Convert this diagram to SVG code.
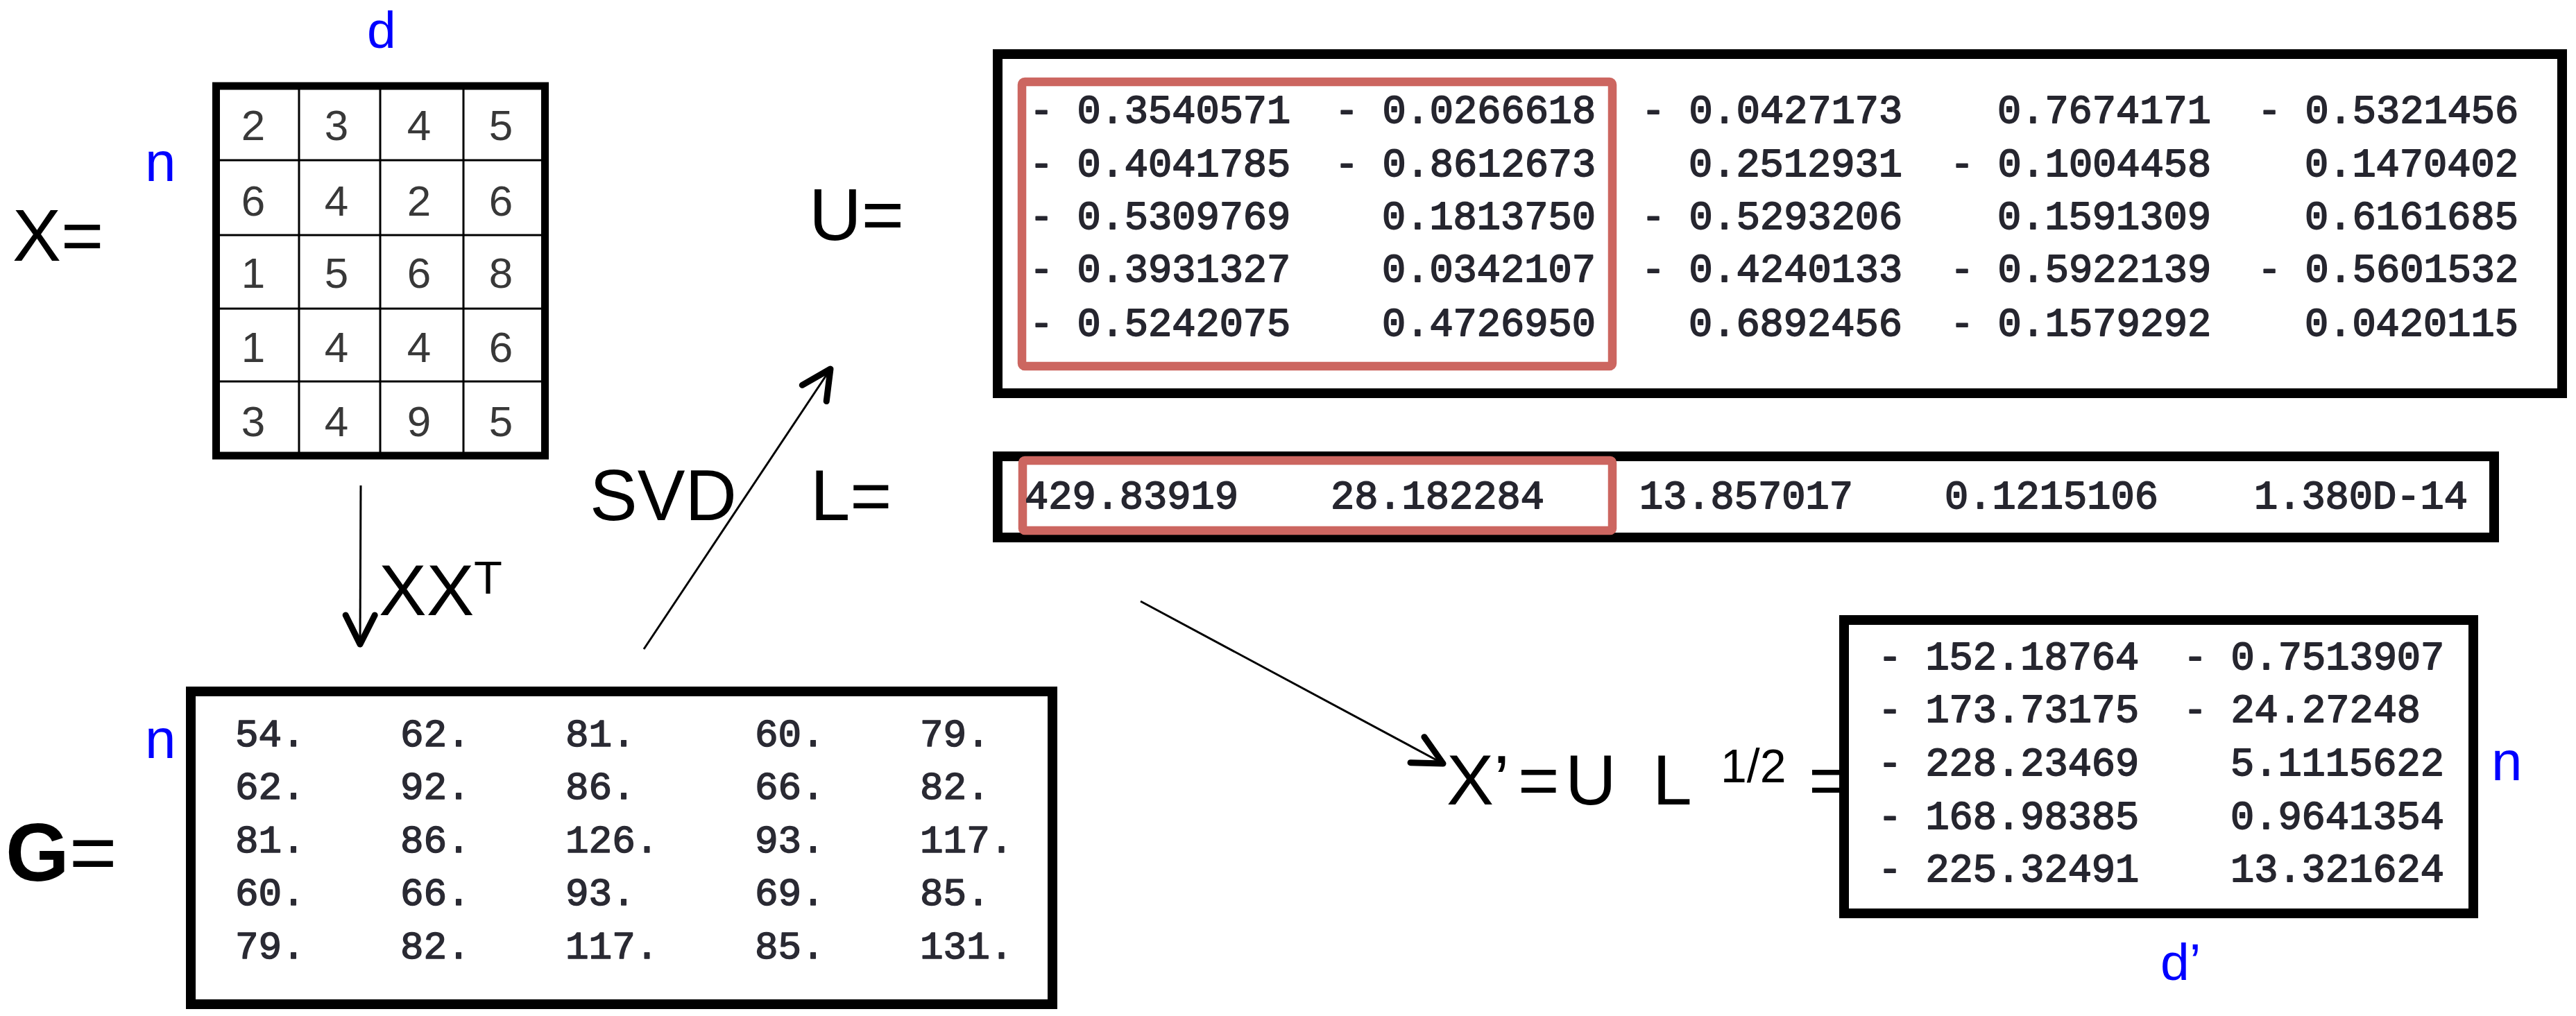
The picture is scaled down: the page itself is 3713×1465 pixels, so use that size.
<svg xmlns="http://www.w3.org/2000/svg" width="3713" height="1465" viewBox="0 0 3713 1465">
<style>
.lbl{font-family:"Liberation Sans",Arial,sans-serif;fill:#000}
.blue{font-family:"Liberation Sans",Arial,sans-serif;fill:#0000FF}
.mono{font-family:"Liberation Mono","Courier New",monospace;font-size:57px;fill:#26262f;stroke:#26262f;stroke-width:1.8;stroke-linejoin:round}
.gmono{font-family:"Liberation Mono","Courier New",monospace;font-size:56px;fill:#2a2a33;stroke:#2a2a33;stroke-width:1.6;stroke-linejoin:round}
.cell{font-family:"Liberation Sans",Arial,sans-serif;font-size:62px;fill:#383838;text-anchor:middle}
.box{fill:none;stroke:#000;stroke-width:14}
.red{fill:none;stroke:#CC6660;stroke-width:12.5}
.grid{stroke:#000;stroke-width:3}
.conn{stroke:#000;stroke-width:3;fill:none}
</style>
<defs>
<marker id="arr" markerUnits="userSpaceOnUse" markerWidth="100" markerHeight="100" refX="0" refY="0" orient="auto" overflow="visible">
<path d="M-42,-21 L0,0 L-42,21" fill="none" stroke="#000" stroke-width="9" stroke-linecap="round" stroke-linejoin="round"/>
</marker>
</defs>
<rect width="3713" height="1465" fill="#fff"/>

<g id="X">
<text class="lbl" x="18" y="376" font-size="105">X=</text>
<text class="blue" x="529" y="69" font-size="75">d</text>
<text class="blue" x="209" y="261" font-size="80">n</text>
<rect x="311.5" y="124" width="474" height="533" fill="none" stroke="#000" stroke-width="11"/>
<line class="grid" x1="431" y1="124" x2="431" y2="657"/>
<line class="grid" x1="548" y1="124" x2="548" y2="657"/>
<line class="grid" x1="668" y1="124" x2="668" y2="657"/>
<line class="grid" x1="311" y1="231" x2="786" y2="231"/>
<line class="grid" x1="311" y1="339" x2="786" y2="339"/>
<line class="grid" x1="311" y1="445" x2="786" y2="445"/>
<line class="grid" x1="311" y1="550" x2="786" y2="550"/>
<text class="cell" y="202"><tspan x="365">2</tspan><tspan x="485">3</tspan><tspan x="604">4</tspan><tspan x="722">5</tspan></text>
<text class="cell" y="311"><tspan x="365">6</tspan><tspan x="485">4</tspan><tspan x="604">2</tspan><tspan x="722">6</tspan></text>
<text class="cell" y="415"><tspan x="365">1</tspan><tspan x="485">5</tspan><tspan x="604">6</tspan><tspan x="722">8</tspan></text>
<text class="cell" y="522"><tspan x="365">1</tspan><tspan x="485">4</tspan><tspan x="604">4</tspan><tspan x="722">6</tspan></text>
<text class="cell" y="629"><tspan x="365">3</tspan><tspan x="485">4</tspan><tspan x="604">9</tspan><tspan x="722">5</tspan></text>
</g>

<g id="G">
<text class="lbl" x="8" y="1270" font-size="118"><tspan font-weight="bold">G</tspan><tspan>=</tspan></text>
<text class="blue" x="209" y="1093" font-size="80">n</text>
<rect class="box" x="275" y="997" width="1242" height="451"/>
<text class="gmono" y="1076"><tspan x="339">54.</tspan><tspan x="577">62.</tspan><tspan x="815">81.</tspan><tspan x="1088">60.</tspan><tspan x="1326">79.</tspan></text>
<text class="gmono" y="1152"><tspan x="339">62.</tspan><tspan x="577">92.</tspan><tspan x="815">86.</tspan><tspan x="1088">66.</tspan><tspan x="1326">82.</tspan></text>
<text class="gmono" y="1229"><tspan x="339">81.</tspan><tspan x="577">86.</tspan><tspan x="815">126.</tspan><tspan x="1088">93.</tspan><tspan x="1326">117.</tspan></text>
<text class="gmono" y="1305"><tspan x="339">60.</tspan><tspan x="577">66.</tspan><tspan x="815">93.</tspan><tspan x="1088">69.</tspan><tspan x="1326">85.</tspan></text>
<text class="gmono" y="1382"><tspan x="339">79.</tspan><tspan x="577">82.</tspan><tspan x="815">117.</tspan><tspan x="1088">85.</tspan><tspan x="1326">131.</tspan></text>
</g>

<g id="U">
<text class="lbl" x="1166" y="346" font-size="105">U=</text>
<rect class="box" x="1438" y="78" width="2255" height="489"/>
<rect class="red" x="1473" y="118" width="851" height="410" rx="4"/>
<text class="mono" y="177"><tspan x="1484">- 0.3540571</tspan><tspan x="1924">- 0.0266618</tspan><tspan x="2366">- 0.0427173</tspan><tspan x="2879">0.7674171</tspan><tspan x="3254">- 0.5321456</tspan></text>
<text class="mono" y="254"><tspan x="1484">- 0.4041785</tspan><tspan x="1924">- 0.8612673</tspan><tspan x="2434">0.2512931</tspan><tspan x="2811">- 0.1004458</tspan><tspan x="3322">0.1470402</tspan></text>
<text class="mono" y="330"><tspan x="1484">- 0.5309769</tspan><tspan x="1992">0.1813750</tspan><tspan x="2366">- 0.5293206</tspan><tspan x="2879">0.1591309</tspan><tspan x="3322">0.6161685</tspan></text>
<text class="mono" y="406"><tspan x="1484">- 0.3931327</tspan><tspan x="1992">0.0342107</tspan><tspan x="2366">- 0.4240133</tspan><tspan x="2811">- 0.5922139</tspan><tspan x="3254">- 0.5601532</tspan></text>
<text class="mono" y="484"><tspan x="1484">- 0.5242075</tspan><tspan x="1992">0.4726950</tspan><tspan x="2434">0.6892456</tspan><tspan x="2811">- 0.1579292</tspan><tspan x="3322">0.0420115</tspan></text>
</g>

<g id="L">
<text class="lbl" x="850" y="750" font-size="103">SVD</text>
<text class="lbl" x="1168" y="750" font-size="103">L=</text>
<rect class="box" x="1438" y="658" width="2157" height="117"/>
<rect class="red" x="1474" y="664" width="850" height="101" rx="3"/>
<text class="mono" y="733"><tspan x="1477">429.83919</tspan><tspan x="1918">28.182284</tspan><tspan x="2363">13.857017</tspan><tspan x="2803">0.1215106</tspan><tspan x="3249">1.380D-14</tspan></text>
</g>

<g id="Xprime">
<text class="lbl" y="1160" font-size="102"><tspan x="2085">X’</tspan><tspan x="2188">=</tspan><tspan x="2256">U</tspan><tspan x="2382">L</tspan></text>
<text class="lbl" x="2480" y="1128" font-size="68">1/2</text>
<text class="lbl" x="2607" y="1160" font-size="102">=</text>
<rect class="box" x="2658" y="894" width="907" height="423"/>
<text class="mono" y="965"><tspan x="2707">- 152.18764</tspan><tspan x="3147">- 0.7513907</tspan></text>
<text class="mono" y="1041"><tspan x="2707">- 173.73175</tspan><tspan x="3147">- 24.27248</tspan></text>
<text class="mono" y="1118"><tspan x="2707">- 228.23469</tspan><tspan x="3215">5.1115622</tspan></text>
<text class="mono" y="1195"><tspan x="2707">- 168.98385</tspan><tspan x="3215">0.9641354</tspan></text>
<text class="mono" y="1271"><tspan x="2707">- 225.32491</tspan><tspan x="3215">13.321624</tspan></text>
<text class="blue" x="3591" y="1125" font-size="80">n</text>
<text class="blue" x="3114" y="1413" font-size="75">d’</text>
</g>

<g id="connectors">
<line class="conn" x1="520" y1="700" x2="519" y2="929" marker-end="url(#arr)"/>
<text class="lbl" x="546" y="887" font-size="103">XX</text>
<text class="lbl" x="683" y="856" font-size="67">T</text>
<line class="conn" x1="928" y1="936" x2="1197" y2="532" marker-end="url(#arr)"/>
<line class="conn" x1="1644" y1="867" x2="2080" y2="1101" marker-end="url(#arr)"/>
</g>
</svg>
